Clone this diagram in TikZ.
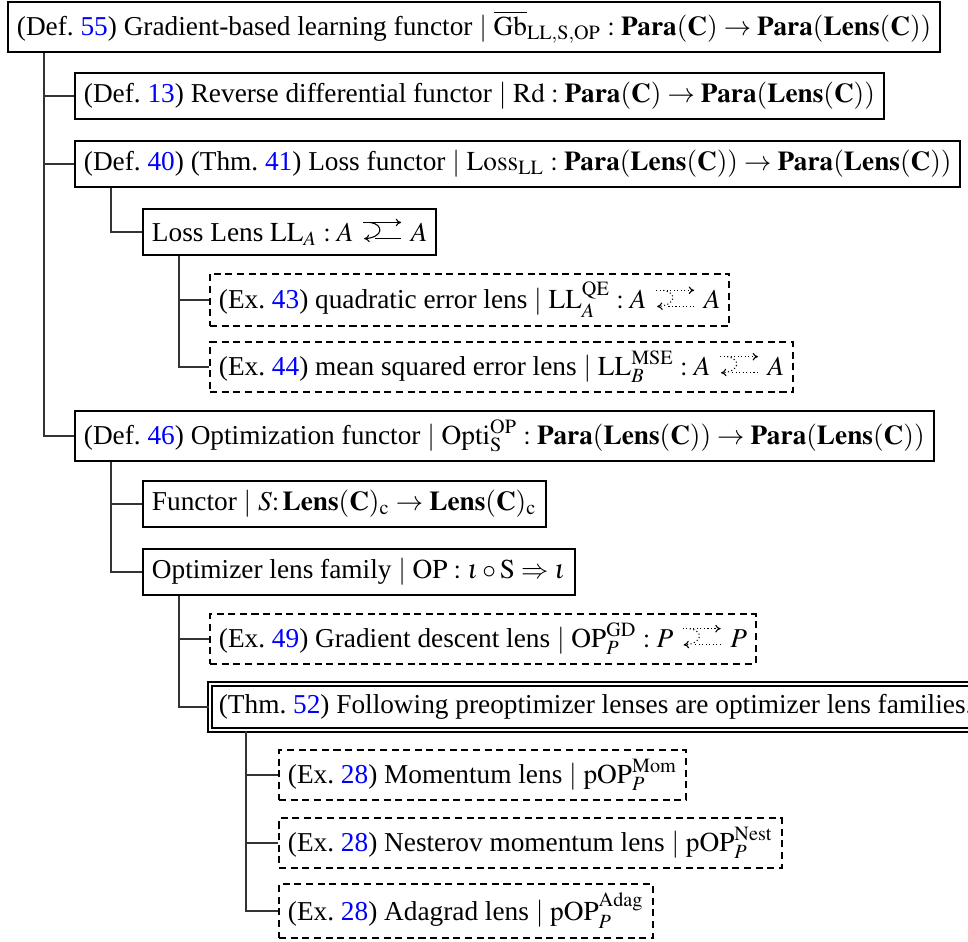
\documentclass[tikz,border=0pt]{standalone}
\usepackage{mathptmx}
\usepackage{fontspec}
\setmainfont{Liberation Serif}
\usepackage{xcolor}
\usetikzlibrary{arrows.meta}

% lens arrow glyphs: forward arrow on top, curved backward arrow below
\newsavebox\lenssolid
\newsavebox\lensdotted
\newcommand\lensglyph[1]{%
  \begin{pgfpicture}%
    \pgfsetbaseline{0pt}%
    \pgfsetlinewidth{0.4pt}#1%
    \pgfsetarrowsend{To[length=2pt,width=2.8pt]}%
    \pgfpathmoveto{\pgfpoint{0pt}{6.9pt}}%
    \pgfpathlineto{\pgfpoint{14pt}{6.9pt}}%
    \pgfusepath{stroke}%
    \pgfpathmoveto{\pgfpoint{2.6pt}{6.9pt}}%
    \pgfpathcurveto{\pgfpoint{7.6pt}{6.2pt}}{\pgfpoint{7.6pt}{1.4pt}}{\pgfpoint{0.3pt}{0.9pt}}%
    \pgfusepath{stroke}%
    \pgfsetarrows{-}%
    \pgfpathmoveto{\pgfpoint{4.5pt}{0.9pt}}%
    \pgfpathlineto{\pgfpoint{14pt}{0.9pt}}%
    \pgfusepath{stroke}%
  \end{pgfpicture}}
\newcommand\lensS{\mathrel{\,\usebox\lenssolid\,}}
\newcommand\lensD{\mathrel{\,\usebox\lensdotted\,}}
\newcommand\rref[1]{\textcolor{blue}{#1}}

\begin{document}
\sbox\lenssolid{\lensglyph{}}
\sbox\lensdotted{\lensglyph{\pgfsetdash{{0.4pt}{0.9pt}}{0pt}}}
\begin{tikzpicture}[x=0.37pt,y=-0.37pt,
  tbox/.style={draw,line width=0.75pt,inner sep=3.3pt,anchor=west,
    minimum height=17pt,font=\fontsize{10.1}{12}\selectfont},
  dbox/.style={tbox,dash pattern=on 2.6pt off 1.7pt},
  ddbox/.style={tbox,double,double distance=0.8pt,line width=0.7pt},
  branch/.style={line width=0.55pt,draw=black!80}]
\useasboundingbox (0,0) rectangle (968,942);

\node[tbox] (gb) at (7,27) {(Def.~\rref{55}) Gradient-based learning functor $\mid$ $\overline{\mathrm{Gb}}_{\mathrm{LL,S,OP}} : \mathbf{Para}(\mathbf{C}) \to \mathbf{Para}(\mathbf{Lens}(\mathbf{C}))$};
\node[tbox] (rd) at (74,96) {(Def.~\rref{13}) Reverse differential functor $\mid$ $\mathrm{Rd} : \mathbf{Para}(\mathbf{C}) \to \mathbf{Para}(\mathbf{Lens}(\mathbf{C}))$};
\node[tbox] (loss) at (74,164) {(Def.~\rref{40}) (Thm.~\rref{41}) Loss functor $\mid$ $\mathrm{Loss}_{\mathrm{LL}} : \mathbf{Para}(\mathbf{Lens}(\mathbf{C})) \to \mathbf{Para}(\mathbf{Lens}(\mathbf{C}))$};
\node[tbox] (ll) at (142,232) {Loss Lens $\mathrm{LL}_A : A \lensS A$};
\node[dbox] (qe) at (209,300) {(Ex.~\rref{43}) quadratic error lens $\mid$ $\mathrm{LL}_A^{\mathrm{QE}} : A \lensD A$};
\node[dbox] (mse) at (209,367) {(Ex.~\rref{44}) mean squared error lens $\mid$ $\mathrm{LL}_B^{\mathrm{MSE}} : A \lensD A$};
\node[tbox] (opti) at (74,436) {(Def.~\rref{46}) Optimization functor $\mid$ $\mathrm{Opti}_{\mathrm{S}}^{\mathrm{OP}} : \mathbf{Para}(\mathbf{Lens}(\mathbf{C})) \to \mathbf{Para}(\mathbf{Lens}(\mathbf{C}))$};
\node[tbox] (fun) at (142,504) {Functor $\mid$ $S\colon \mathbf{Lens}(\mathbf{C})_{\mathrm{c}} \to \mathbf{Lens}(\mathbf{C})_{\mathrm{c}}$};
\node[tbox] (olf) at (142,572) {Optimizer lens family $\mid$ $\mathrm{OP} : \iota \circ \mathrm{S} \Rightarrow \iota$};
\node[dbox] (gd) at (209,639) {(Ex.~\rref{49}) Gradient descent lens $\mid$ $\mathrm{OP}_P^{\mathrm{GD}} : P \lensD P$};
\node[ddbox] (thm) at (209,707) {(Thm.~\rref{52}) Following preoptimizer lenses are optimizer lens families.};
\node[dbox] (mom) at (278,775) {(Ex.~\rref{28}) Momentum lens $\mid$ $\mathrm{pOP}_P^{\mathrm{Mom}}$};
\node[dbox] (nest) at (278,843) {(Ex.~\rref{28}) Nesterov momentum lens $\mid$ $\mathrm{pOP}_P^{\mathrm{Nest}}$};
\node[dbox] (adag) at (278,911) {(Ex.~\rref{28}) Adagrad lens $\mid$ $\mathrm{pOP}_P^{\mathrm{Adag}}$};

% folder-style branches
\foreach \p/\c in {gb/rd,gb/loss,gb/opti,loss/ll,ll/qe,ll/mse,opti/fun,opti/olf,olf/gd,olf/thm,thm/mom,thm/nest,thm/adag}
  \draw[branch] ([xshift=37*0.37pt]\p.south west) |- (\c.west);
\end{tikzpicture}
\end{document}
